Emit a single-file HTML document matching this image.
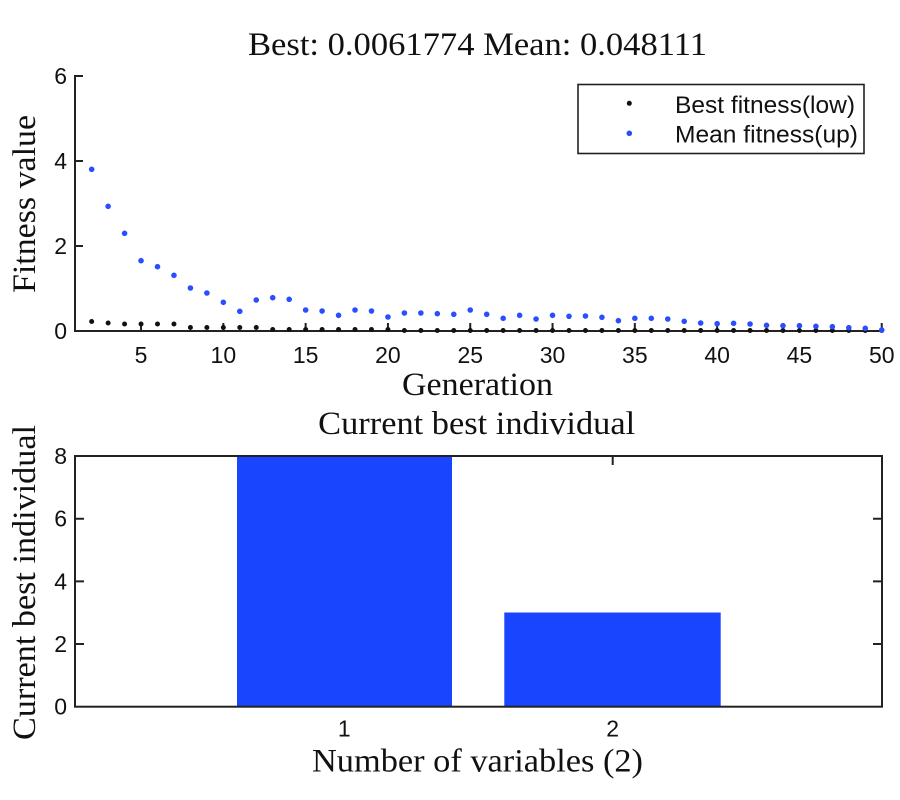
<!DOCTYPE html>
<html><head><meta charset="utf-8"><style>
html,body{margin:0;padding:0;background:#fff;}
svg{display:block;}
.serif{font-family:"Liberation Serif","DejaVu Serif",serif;fill:#111;}
.sans{font-family:"Liberation Sans","DejaVu Sans",sans-serif;fill:#111;}
</style></head><body>
<svg width="900" height="800" viewBox="0 0 900 800" xmlns="http://www.w3.org/2000/svg">
<rect width="900" height="800" fill="#fff"/>
<text class="serif" x="477.5" y="55" font-size="33" text-anchor="middle" textLength="459" lengthAdjust="spacingAndGlyphs">Best: 0.0061774 Mean: 0.048111</text>
<path d="M75 75V332M74 331H882M75 76h8M75 161h8M75 246h8M141.04 331v-8M223.34 331v-8M305.64 331v-8M387.94 331v-8M470.24 331v-8M552.54 331v-8M634.84 331v-8M717.14 331v-8M799.44 331v-8M881.74 331v-8" stroke="#222" stroke-width="2" fill="none"/>
<g class="sans" font-size="23" text-anchor="end">
<text x="67" y="84">6</text>
<text x="67" y="169">4</text>
<text x="67" y="254">2</text>
<text x="67" y="339">0</text>
</g>
<g class="sans" font-size="23" text-anchor="middle">
<text x="141.04" y="363">5</text>
<text x="223.34" y="363">10</text>
<text x="305.64" y="363">15</text>
<text x="387.94" y="363">20</text>
<text x="470.24" y="363">25</text>
<text x="552.54" y="363">30</text>
<text x="634.84" y="363">35</text>
<text x="717.14" y="363">40</text>
<text x="799.44" y="363">45</text>
<text x="881.74" y="363">50</text>
</g>
<text class="serif" x="477.5" y="395" font-size="33" text-anchor="middle" textLength="151" lengthAdjust="spacingAndGlyphs">Generation</text>
<text class="serif" transform="translate(35,204) rotate(-90)" font-size="33" text-anchor="middle" textLength="178" lengthAdjust="spacingAndGlyphs">Fitness value</text>
<path stroke="#111" stroke-width="5" stroke-linecap="round" fill="none" d="M91.66 321.5h0M108.12 323h0M124.58 324h0M141.04 324h0M157.5 324h0M173.96 324h0M190.42 327.5h0M206.88 327.5h0M223.34 327.5h0M239.8 327.5h0M256.26 327.5h0M272.72 329.5h0M289.18 329.5h0M305.64 329.5h0M322.1 329.5h0M338.56 329.5h0M355.02 329.5h0M371.48 329.5h0M387.94 329.5h0M404.4 330.5h0M420.86 330.5h0M437.32 330.5h0M453.78 330.5h0M470.24 330.5h0M486.7 330.5h0M503.16 330.5h0M519.62 330.5h0M536.08 330.5h0M552.54 330.5h0M569 330.5h0M585.46 330.5h0M601.92 330.5h0M618.38 330.5h0M634.84 330.5h0M651.3 330.5h0M667.76 330.5h0M684.22 330.5h0M700.68 330.5h0M717.14 330.5h0M733.6 330.5h0M750.06 330.5h0M766.52 330.5h0M782.98 330.5h0M799.44 330.5h0M815.9 330.5h0M832.36 330.5h0M848.82 330.5h0M865.28 330.5h0M881.74 330.5h0"/>
<path stroke="#2a4dff" stroke-width="5.6" stroke-linecap="round" fill="none" d="M91.66 169.3h0M108.12 206.3h0M124.58 233.3h0M141.04 260.7h0M157.5 266.7h0M173.96 275.3h0M190.42 288h0M206.88 293h0M223.34 302.3h0M239.8 311.3h0M256.26 300h0M272.72 297.7h0M289.18 299.3h0M305.64 310h0M322.1 311h0M338.56 315.3h0M355.02 310h0M371.48 311h0M387.94 317h0M404.4 313h0M420.86 313h0M437.32 313.7h0M453.78 314.3h0M470.24 310h0M486.7 314.3h0M503.16 318.3h0M519.62 315.3h0M536.08 319h0M552.54 315.3h0M569 316.3h0M585.46 316h0M601.92 317.3h0M618.38 320.7h0M634.84 318.3h0M651.3 318.3h0M667.76 319h0M684.22 321.3h0M700.68 323h0M717.14 323.7h0M733.6 323.3h0M750.06 324h0M766.52 325.3h0M782.98 325.7h0M799.44 325.7h0M815.9 326.3h0M832.36 326.7h0M848.82 327.7h0M865.28 328.3h0M881.74 330h0"/>
<rect x="578" y="84.5" width="286" height="69" fill="#fff" stroke="#222" stroke-width="1.6"/>
<circle cx="629.3" cy="103.3" r="2.5" fill="#111"/>
<circle cx="629.3" cy="133.3" r="2.8" fill="#2a4dff"/>
<text class="sans" x="675" y="113" font-size="24.5" textLength="180" lengthAdjust="spacingAndGlyphs">Best fitness(low)</text>
<text class="sans" x="675" y="142.5" font-size="24.5" textLength="183" lengthAdjust="spacingAndGlyphs">Mean fitness(up)</text>
<text class="serif" x="476.7" y="434" font-size="33" text-anchor="middle" textLength="317" lengthAdjust="spacingAndGlyphs">Current best individual</text>
<path d="M75 518.7h9M75 581.4h9M75 644h9M882 518.7h-9M882 581.4h-9M882 644h-9M344.3 456v9M612.7 456v9M344.3 706.7v-9M612.7 706.7v-9" stroke="#222" stroke-width="2" fill="none"/>
<rect x="237" y="456" width="215" height="250.7" fill="#1a45ff"/>
<rect x="504.3" y="612.5" width="216.4" height="94.2" fill="#1a45ff"/>
<rect x="75" y="456" width="807" height="250.7" fill="none" stroke="#222" stroke-width="2"/>
<g class="sans" font-size="23" text-anchor="end">
<text x="67" y="464">8</text>
<text x="67" y="526.7">6</text>
<text x="67" y="589.4">4</text>
<text x="67" y="652">2</text>
<text x="67" y="714.7">0</text>
</g>
<g class="sans" font-size="23" text-anchor="middle">
<text x="344.3" y="736.5">1</text>
<text x="612.7" y="736.5">2</text>
</g>
<text class="serif" x="477.5" y="771.5" font-size="33" text-anchor="middle" textLength="331" lengthAdjust="spacingAndGlyphs">Number of variables (2)</text>
<text class="serif" transform="translate(35,582.5) rotate(-90)" font-size="33" text-anchor="middle" textLength="315" lengthAdjust="spacingAndGlyphs">Current best individual</text>
</svg>
</body></html>
